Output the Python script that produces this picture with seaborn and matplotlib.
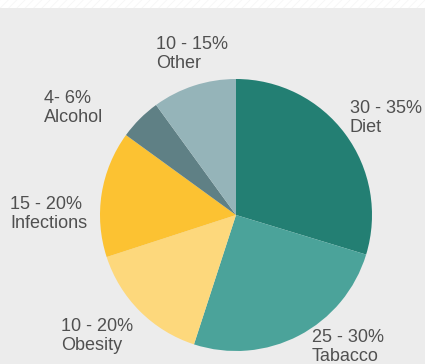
import matplotlib
matplotlib.use("Agg")
import matplotlib.pyplot as plt
import matplotlib.patches as mpatches
import seaborn as sns

categories = ["Diet", "Tabacco", "Obesity", "Infections", "Alcohol", "Other"]
values = [29.7, 25.3, 15.0, 15.0, 5.0, 10.0]
ranges = ["30 - 35%", "25 - 30%", "10 - 20%", "15 - 20%", "4- 6%", "10 - 15%"]
colors = ["#237f73", "#4ba39a", "#fdd87c", "#fcc232", "#5f8085", "#95b4b9"]

sns.set_style("white")
plt.rcParams['font.family'] = ['Liberation Sans', 'DejaVu Sans']

W, H = 425, 364
bg = "#ececec"
fig = plt.figure(figsize=(W / 100, H / 100), dpi=100, facecolor=bg)
ax = fig.add_axes([0, 0, 1, 1])
ax.set_facecolor(bg)

cx, cy, r = 236, H - 215, 136
ax.pie(values, colors=colors, startangle=90, counterclock=False,
       center=(cx, cy), radius=r, frame=True,
       wedgeprops=dict(linewidth=0))
ax.set_xlim(0, W)
ax.set_ylim(0, H)
ax.set_aspect('equal', adjustable='box')
ax.set_xticks([])
ax.set_yticks([])
for s in ax.spines.values():
    s.set_visible(False)

# top white hatched strip
plt.rcParams['hatch.linewidth'] = 0.6
strip = mpatches.Rectangle((0, H - 8), W, 8, facecolor="white",
                           edgecolor="#f6f6f6", hatch="////", linewidth=0)
ax.add_patch(strip)

label_pos = {
    "Diet": (350, 100),
    "Tabacco": (312, 329),
    "Obesity": (61, 318),
    "Infections": (10, 196),
    "Alcohol": (44, 90),
    "Other": (156, 36),
}
for cat, rng in zip(categories, ranges):
    x, y = label_pos[cat]
    ax.text(x, H - y, f"{rng}\n{cat}", ha="left", va="top",
            fontsize=13, color="#505050", linespacing=1.15)

fig.savefig("out.png", dpi=100, facecolor=bg)
